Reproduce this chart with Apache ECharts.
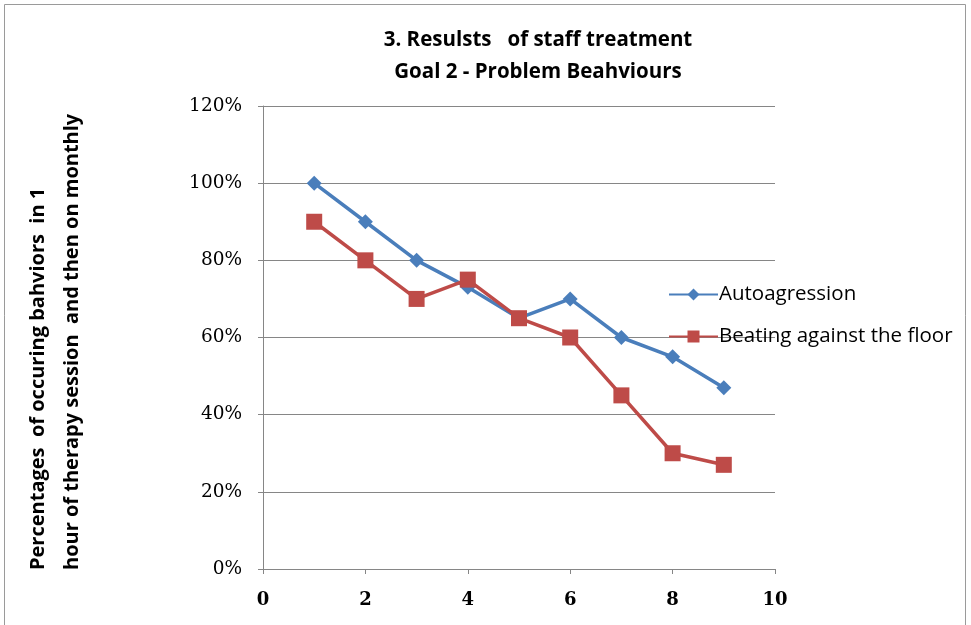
<!DOCTYPE html>
<html>
<head>
<meta charset="utf-8">
<script src="https://cdn.jsdelivr.net/npm/echarts@6/dist/echarts.min.js"></script>
<style>
  html, body { margin: 0; padding: 0; background: #fff; }
  #chart { width: 971px; height: 625px; }
</style>
</head>
<body>
<div id="chart"></div>
<script>
// Session numbers and behaviour percentages
const sessions = [1, 2, 3, 4, 5, 6, 7, 8, 9];
const autoagression = [100, 90, 80, 73, 65, 70, 60, 55, 47];
const beatingFloor = [90, 80, 70, 75, 65, 60, 45, 30, 27];
const seriesNames = ['Autoagression', 'Beating against the floor'];
const titleLines = ['3. Resulsts   of staff treatment', 'Goal 2 - Problem Beahviours'];
const yTitleLines = ['Percentages  of occuring bahviors  in 1', 'hour of therapy session  and then on monthly'];

const pair = (xs, ys) => xs.map((x, i) => [x, ys[i]]);

const chart = echarts.init(document.getElementById('chart'));
const sansFont = '"Open Sans", Lato, sans-serif';
const serifFont = '"DejaVu Serif", "Liberation Serif", serif';

const rotatedTitle = (text, x) => ({
  type: 'text', x: x, y: 570, rotation: Math.PI / 2,
  style: { text: text, font: 'bold 20px ' + sansFont, fill: '#000',
           align: 'left', verticalAlign: 'middle' }
});

chart.setOption({
  backgroundColor: '#fff',
  animation: false,
  grid: { left: 263, right: 196, top: 106, bottom: 56 },
  graphic: [
    {
      type: 'rect', silent: true,
      shape: { x: 4.5, y: 4.5, width: 961, height: 640 },
      style: { fill: 'none', stroke: '#9a9a9a', lineWidth: 1 }
    },
    {
      type: 'text', x: 538, y: 51,
      style: { text: titleLines[0], font: 'bold 20.5px ' + sansFont, fill: '#000',
               align: 'center', verticalAlign: 'bottom' }
    },
    {
      type: 'text', x: 538, y: 83,
      style: { text: titleLines[1], font: 'bold 20.5px ' + sansFont, fill: '#000',
               align: 'center', verticalAlign: 'bottom' }
    },
    rotatedTitle(yTitleLines[0], 38),
    rotatedTitle(yTitleLines[1], 72)
  ],
  legend: {
    orient: 'vertical',
    left: 663, top: 279,
    itemWidth: 49, itemHeight: 15, itemGap: 21,
    textStyle: { fontFamily: sansFont, fontSize: 20.5, color: '#000', padding: [0, 0, 0, -4] },
    data: seriesNames
  },
  xAxis: {
    type: 'value', min: 0, max: 10, interval: 2,
    axisLine: { show: true, lineStyle: { color: '#868686' } },
    axisTick: { show: true, length: 5, lineStyle: { color: '#868686' } },
    splitLine: { show: false },
    axisLabel: { fontFamily: serifFont, fontSize: 18, fontWeight: 'bold', color: '#000', margin: 22 }
  },
  yAxis: {
    type: 'value', min: 0, max: 120, interval: 20,
    axisLine: { show: true, lineStyle: { color: '#868686' } },
    axisTick: { show: true, length: 5, lineStyle: { color: '#868686' } },
    splitLine: { show: true, lineStyle: { color: '#868686', width: 1 } },
    axisLabel: { formatter: '{value}%', fontFamily: serifFont, fontSize: 18.5, color: '#000', margin: 21 }
  },
  series: [
    {
      name: seriesNames[0], type: 'line', data: pair(sessions, autoagression),
      symbol: 'diamond', symbolSize: 15,
      lineStyle: { color: '#4A7EBB', width: 3.5 },
      itemStyle: { color: '#4A7EBB' }, z: 3
    },
    {
      name: seriesNames[1], type: 'line', data: pair(sessions, beatingFloor),
      symbol: 'rect', symbolSize: 16,
      lineStyle: { color: '#BE4B48', width: 3.5 },
      itemStyle: { color: '#BE4B48' }, z: 4
    }
  ]
});
</script>
</body>
</html>
